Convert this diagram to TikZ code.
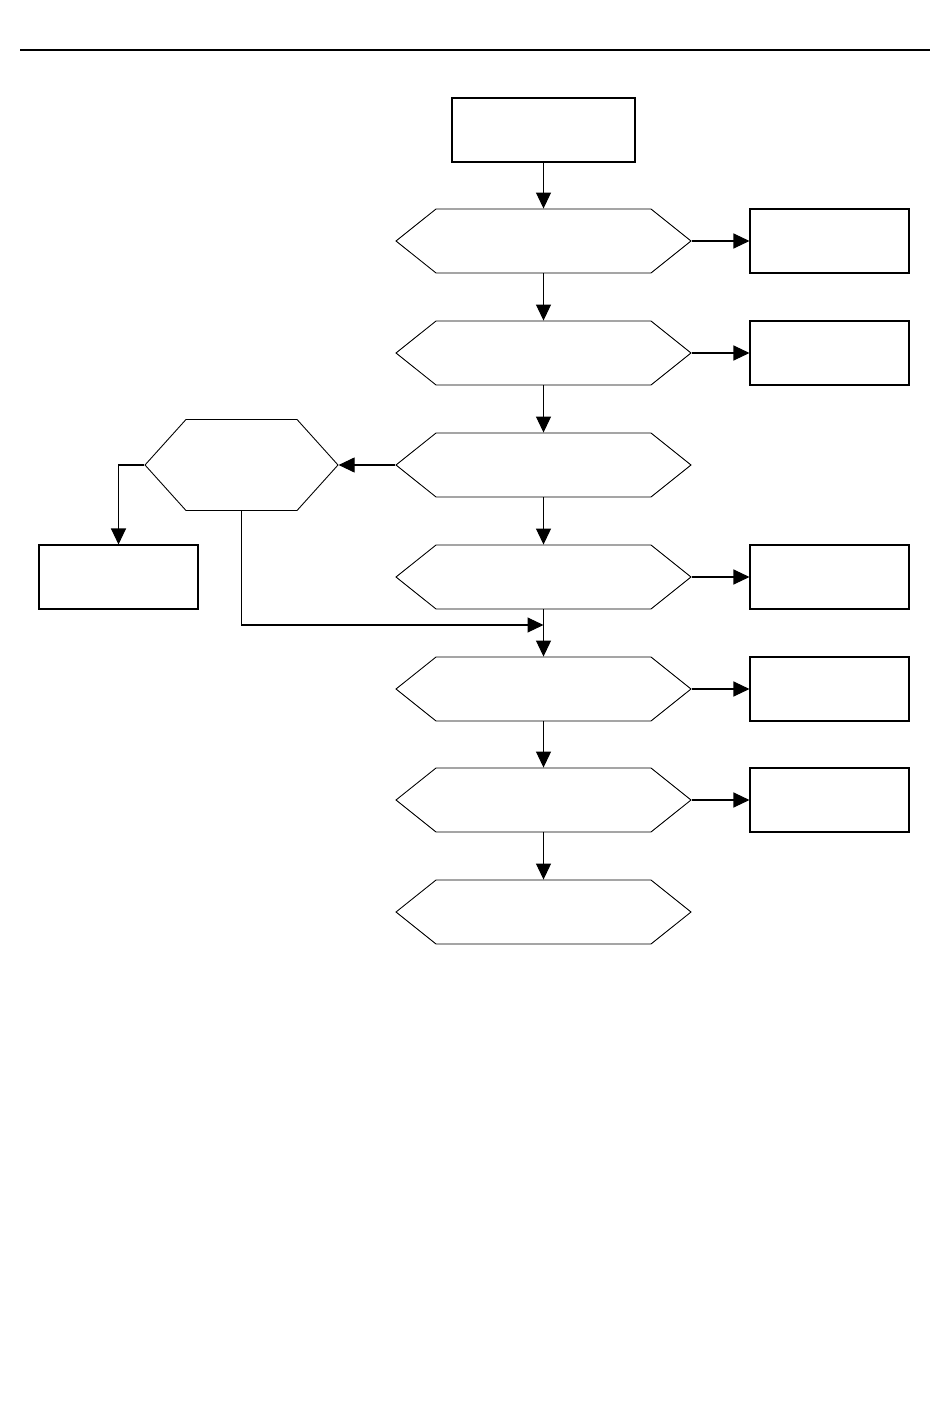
\documentclass[tikz,border=0pt]{standalone}
\usepackage{tikz}
\usetikzlibrary{arrows.meta,shapes.symbols}

\tikzset{
  box/.style={draw, line width=0.6pt, minimum width=3.18cm, minimum height=1.28cm, inner sep=0pt},
  hexa/.style={draw, line width=0.5pt, shape=signal, signal to=west and east, signal pointer angle=77.3,
    minimum width=5.9cm, minimum height=1.28cm, inner sep=0pt},
  flow/.style={-{Triangle[length=0.32cm,width=0.3cm]}, line width=0.6pt}
}

\begin{document}
\begin{tikzpicture}
\useasboundingbox (0,0) rectangle (19,-28.5);
\draw[line width=0.6pt] (0.4,-1.0) -- (18.6,-1.0);

\node[box, minimum width=3.66cm] (start) at (10.87,-2.6) {};

\node[hexa] (h1) at (10.87,-4.82) {};
\node[hexa] (h2) at (10.87,-7.06) {};
\node[hexa] (h3) at (10.87,-9.30) {};
\node[hexa] (h4) at (10.87,-11.54) {};
\node[hexa] (h5) at (10.87,-13.78) {};
\node[hexa] (h6) at (10.87,-16.00) {};
\node[hexa] (h7) at (10.87,-18.24) {};

\node[box] (r1) at (16.59,-4.82) {};
\node[box] (r2) at (16.59,-7.06) {};
\node[box] (r4) at (16.59,-11.54) {};
\node[box] (r5) at (16.59,-13.78) {};
\node[box] (r6) at (16.59,-16.00) {};

\node[hexa, signal pointer angle=96, minimum width=3.86cm, minimum height=1.82cm] (lh) at (4.83,-9.30) {};
\node[box] (lb) at (2.37,-11.54) {};

\coordinate (join) at (10.87,-12.5);

\draw[flow] (start) -- (h1);
\draw[flow] (h1) -- (h2);
\draw[flow] (h2) -- (h3);
\draw[flow] (h3) -- (h4);
\draw[flow] (h4) -- (h5);
\draw[flow] (h5) -- (h6);
\draw[flow] (h6) -- (h7);

\draw[flow] (h1.east) -- (r1.west);
\draw[flow] (h2.east) -- (r2.west);
\draw[flow] (h4.east) -- (r4.west);
\draw[flow] (h5.east) -- (r5.west);
\draw[flow] (h6.east) -- (r6.west);

\draw[flow] (h3.west) -- (lh.east);
\draw[flow] (lh.west) -| (lb.north);
\draw[flow] (lh.south) |- (join);

\end{tikzpicture}
\end{document}
